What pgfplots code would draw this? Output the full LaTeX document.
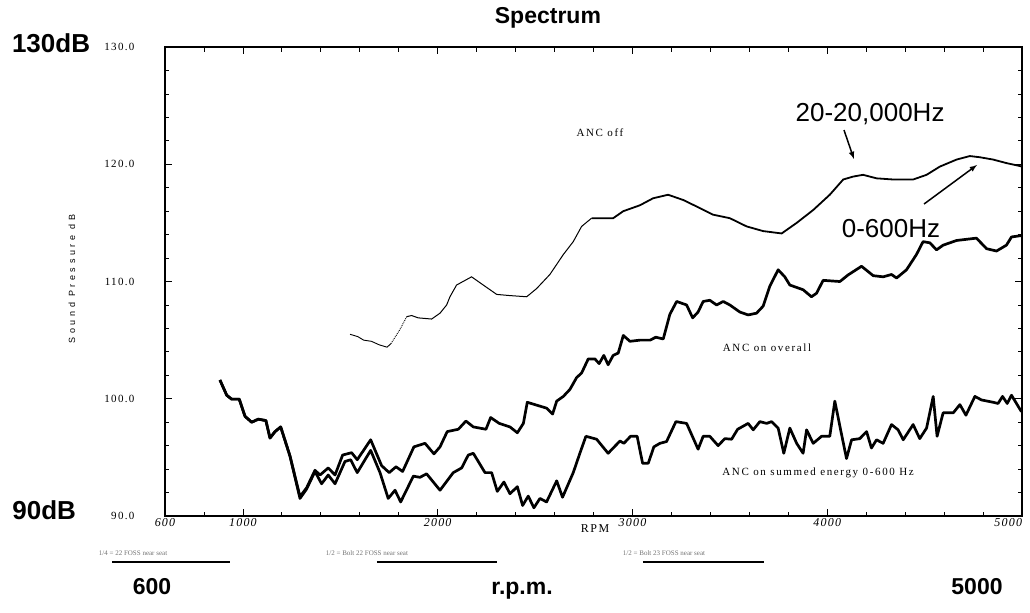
\documentclass[border=0pt]{standalone}
\usepackage{fontspec}
\setmainfont{Liberation Serif}
\setsansfont{Liberation Sans}
\usepackage{pgfplots}
\pgfplotsset{compat=1.18}

\begin{document}
\begin{tikzpicture}
\begin{axis}[
  scale only axis, width=857pt, height=469pt,
  xmin=600, xmax=5000, ymin=90, ymax=130,
  clip=false,
  axis line style={line width=1.3pt},
  tick style={black, line width=0.8pt},
  major tick length=7pt, minor tick length=4.5pt,
  tick align=inside,
  xtick={600,1000,2000,3000,4000,5000},
  xticklabels={600,1000,2000,3000,4000,{\makebox[0pt][r]{5000}}},
  minor xtick={600,800,...,5000},
  ytick={90,100,110,120,130},
  yticklabels={90.0,100.0,110.0,120.0,130.0},
  minor ytick={90,92,...,130},
  yticklabel style={font=\fontsize{11}{11}\selectfont\addfontfeatures{LetterSpace=12}, xshift=-27pt},
  xticklabel style={font=\fontsize{12}{12}\selectfont\itshape\addfontfeatures{LetterSpace=10}, yshift=1pt},
]
% ANC off (thin leading part)
\addplot[black, line width=0.9pt] coordinates {
(1550,105.5)(1590,105.3)(1620,105.0)(1660,104.9)(1700,104.6)(1740,104.4)(1760,104.7)};
\addplot[black, line width=0.9pt, densely dotted] coordinates {
(1760,104.7)(1806,105.9)(1841,107.0)};
\addplot[black, line width=1.0pt] coordinates {
(1841,107.0)(1866,107.1)(1900,106.9)(1969,106.8)(2012,107.3)(2046,108.0)(2063,108.7)
(2097,109.7)(2174,110.4)(2234,109.7)(2303,108.9)(2371,108.8)(2457,108.7)(2508,109.4)
(2576,110.6)(2645,112.3)(2696,113.4)(2739,114.7)(2790,115.4)};
% ANC off (main part)
\addplot[black, line width=1.8pt] coordinates {
(2790,115.4)(2901,115.4)(2953,116.0)(3038,116.5)(3106,117.1)(3183,117.4)(3261,116.95)
(3329,116.4)(3414,115.7)(3500,115.4)(3586,114.7)(3671,114.3)(3766,114.1)(3843,115.0)
(3928,116.1)(4013,117.4)(4082,118.7)(4133,118.95)(4184,119.1)(4253,118.8)(4339,118.7)
(4441,118.7)(4510,119.1)(4578,119.8)(4664,120.4)(4732,120.7)(4783,120.6)(4852,120.4)
(4920,120.1)(4989,119.85)(5000,119.8)};
% ANC on overall
\addplot[black, line width=2.7pt, line join=round] coordinates {
(882,101.6)(917,100.3)(942,99.97)(981,99.97)(1011,98.5)(1045,98.0)(1079,98.26)(1118,98.14)
(1139,96.65)(1165,97.2)(1194,97.6)(1242,95.1)(1293,91.66)(1327,92.4)(1370,93.9)(1396,93.5)
(1438,94.1)(1473,93.5)(1512,95.2)(1558,95.4)(1587,94.8)(1656,96.5)(1712,94.3)(1751,93.7)
(1786,94.2)(1820,93.8)(1878,95.9)(1935,96.2)(1981,95.3)(2012,95.9)(2049,97.2)(2106,97.4)
(2145,98.1)(2183,97.6)(2248,97.4)(2272,98.4)(2316,97.9)(2371,97.6)(2409,97.1)(2440,97.9)
(2460,99.7)(2559,99.2)(2590,98.7)(2611,99.8)(2645,100.2)(2679,100.8)(2713,101.8)(2739,102.2)
(2773,103.4)(2807,103.4)(2829,103.0)(2853,103.7)(2875,102.9)(2901,103.7)(2927,103.9)
(2953,105.4)(2987,104.9)(3038,105.0)(3090,105.0)(3120,105.25)(3158,105.1)(3192,107.2)
(3227,108.3)(3278,108.0)(3309,106.9)(3337,107.4)(3363,108.3)(3397,108.4)(3432,108.0)
(3466,108.3)(3500,108.0)(3551,107.4)(3594,107.15)(3637,107.3)(3671,107.9)(3705,109.6)
(3748,111.0)(3782,110.4)(3808,109.7)(3876,109.3)(3919,108.7)(3945,109.0)(3979,110.1)
(4065,110.0)(4107,110.56)(4176,111.3)(4236,110.5)(4287,110.4)(4330,110.6)(4356,110.3)
(4407,111.0)(4458,112.3)(4492,113.4)(4527,113.3)(4561,112.7)(4595,113.1)(4664,113.5)
(4715,113.6)(4766,113.7)(4818,112.8)(4869,112.6)(4920,113.1)(4946,113.8)(4989,113.9)(5000,113.9)};
% ANC on summed energy 0-600 Hz
\addplot[black, line width=2.7pt, line join=round] coordinates {
(882,101.6)(917,100.3)(942,99.97)(981,99.97)(1011,98.5)(1045,98.0)(1079,98.26)(1118,98.14)
(1139,96.65)(1165,97.2)(1194,97.6)(1242,95.1)(1293,91.5)(1327,92.3)(1370,93.8)
(1404,92.75)(1438,93.5)(1473,92.75)(1524,94.65)(1553,94.8)(1587,93.7)(1656,95.6)(1704,93.7)
(1746,91.5)(1781,92.2)(1810,91.2)(1875,93.4)(1909,93.3)(1943,93.6)(2012,92.2)(2046,92.95)
(2080,93.7)(2123,94.1)(2157,95.2)(2183,95.35)(2243,93.7)(2277,93.7)(2306,92.1)(2340,92.9)
(2371,91.9)(2409,92.5)(2436,90.9)(2465,91.7)(2494,90.7)(2525,91.5)(2559,91.2)(2611,93.0)
(2641,91.6)(2696,93.7)(2730,95.35)(2761,96.8)(2816,96.55)(2875,95.35)(2936,96.4)(2956,96.2)
(2990,96.8)(3024,96.8)(3052,94.5)(3081,94.5)(3110,95.9)(3141,96.2)(3175,96.35)(3223,98.05)
(3278,97.9)(3337,95.7)(3363,96.8)(3397,96.8)(3440,96.0)(3474,96.6)(3509,96.55)(3540,97.4)
(3551,97.5)(3594,97.9)(3620,97.35)(3654,98.05)(3689,97.9)(3714,98.05)(3748,97.5)(3777,95.35)
(3808,97.5)(3843,96.2)(3876,95.35)(3894,97.35)(3928,96.2)(3971,96.8)(4013,96.8)(4039,99.8)
(4065,97.65)(4099,94.9)(4125,96.5)(4167,96.6)(4202,97.2)(4227,95.8)(4253,96.5)(4287,96.2)
(4330,97.8)(4364,97.35)(4390,96.5)(4441,97.8)(4475,96.6)(4510,97.5)(4544,100.2)(4564,96.8)
(4595,98.8)(4647,98.8)(4681,99.5)(4712,98.6)(4758,100.2)(4792,99.9)(4852,99.7)(4877,99.6)
(4900,100.2)(4924,99.6)(4946,100.3)(4997,98.9)};

% in-plot labels
\node[font=\fontsize{11}{11}\selectfont\addfontfeatures{LetterSpace=15}] at (axis cs:2833,122.67) {ANC off};
\node[font=\fontsize{11}{11}\selectfont\addfontfeatures{LetterSpace=15}] at (axis cs:3691,104.33) {ANC on overall};
\node[font=\fontsize{11}{11}\selectfont\addfontfeatures{LetterSpace=15}] at (axis cs:3953,93.67) {ANC on summed energy 0-600 Hz};
\node[font=\fontsize{12}{12}\selectfont\addfontfeatures{LetterSpace=12}] at (axis cs:2808,88.89) {RPM};

% annotations
\node[font=\sffamily\fontsize{26}{26}\selectfont] at (axis cs:4220,124.29) {20-20,000Hz};
\draw[-latex, line width=1.5pt] (axis cs:4086,122.92) -- (axis cs:4137,120.45);
\node[font=\sffamily\fontsize{26}{26}\selectfont] at (axis cs:4327,114.56) {0-600Hz};
\draw[-latex, line width=1.5pt] (axis cs:4497,116.61) -- (axis cs:4769,119.94);

% outer labels
\node[font=\sffamily\bfseries\fontsize{23}{23}\selectfont] at (axis cs:2566,132.47) {Spectrum};
\node[font=\sffamily\bfseries\fontsize{26}{26}\selectfont] at (axis cs:15,130.34) {130dB};
\node[font=\sffamily\bfseries\fontsize{26}{26}\selectfont] at (axis cs:-20,90.51) {90dB};
\node[font=\sffamily\bfseries\fontsize{23}{23}\selectfont, anchor=base] at (axis cs:533,83.3) {600};
\node[font=\sffamily\bfseries\fontsize{23}{23}\selectfont, anchor=base] at (axis cs:2433,83.3) {r.p.m.};
\node[font=\sffamily\bfseries\fontsize{23}{23}\selectfont, anchor=base] at (axis cs:4769,83.3) {5000};
\node[font=\sffamily\fontsize{9}{9}\selectfont, rotate=90] at (axis cs:122,110.2) {\addfontfeatures{LetterSpace=40}Sound Pressure dB};

% bottom notes
\node[font=\fontsize{7}{7}\selectfont, text=black!55] at (axis cs:436,86.84) {1/4 = 22 FOSS near seat};
\node[font=\fontsize{7}{7}\selectfont, text=black!55] at (axis cs:1637,86.84) {1/2 = Bolt 22 FOSS near seat};
\node[font=\fontsize{7}{7}\selectfont, text=black!55] at (axis cs:3162,86.84) {1/2 = Bolt 23 FOSS near seat};
\draw[line width=1.6pt] (axis cs:328,86.08) -- (axis cs:934,86.08);
\draw[line width=1.6pt] (axis cs:1688,86.08) -- (axis cs:2305,86.08);
\draw[line width=1.6pt] (axis cs:3054,86.08) -- (axis cs:3675,86.08);

\coordinate (BL) at (axis cs:-247.1,81.81);
\coordinate (TR) at (axis cs:5041,134.01);
\end{axis}
\pgfresetboundingbox
\path (BL) rectangle (TR);
\end{tikzpicture}
\end{document}
